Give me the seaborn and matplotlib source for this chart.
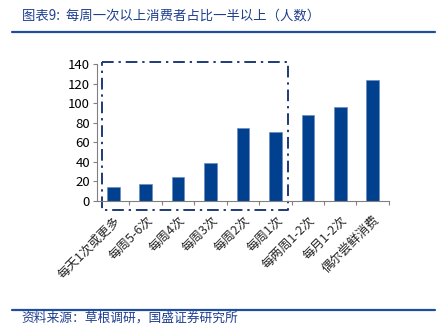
import matplotlib
matplotlib.use("Agg")
import matplotlib.pyplot as plt
import seaborn as sns
import pandas as pd
from matplotlib.lines import Line2D

categories = ["每天1次或更多", "每周5-6次", "每周4次", "每周3次", "每周2次",
              "每周1次", "每两周1-2次", "每月1-2次", "偶尔尝鲜消费"]
values = [14.5, 17, 25, 38.5, 75, 71, 87.5, 96.5, 123.5]
yticks = [0, 20, 40, 60, 80, 100, 120, 140]
title = "图表9:  每周一次以上消费者占比一半以上（人数）"
source = "资料来源：草根调研，国盛证券研究所"

sns.set_theme(style="white")
plt.rcParams['font.family'] = ['Noto Sans CJK SC', 'DejaVu Sans']

df = pd.DataFrame({"cat": categories, "val": values})

fig = plt.figure(figsize=(4.37, 3.32), dpi=100)
ax = fig.add_axes([0.222, 0.3946, 0.668, 0.4126])
sns.barplot(data=df, x="cat", y="val", color="#00408F", width=0.39,
            edgecolor="#6A8CC0", linewidth=0.5, ax=ax, saturation=1)
ax.set_ylim(0, 140)
ax.set_xlim(-0.5, len(categories) - 0.5)
ax.set_yticks(yticks)
ax.set_xlabel("")
ax.set_ylabel("")
for s in ["top", "right"]:
    ax.spines[s].set_visible(False)
for s in ["left", "bottom"]:
    ax.spines[s].set_color("#808080")
    ax.spines[s].set_linewidth(0.8)
ax.tick_params(axis="y", which="major", length=3, width=0.8, color="#808080",
               labelsize=9.5, pad=2, direction="out", left=True)
ax.tick_params(axis="x", which="major", length=0, labelsize=9, pad=9)
ax.set_xticks([i + 0.5 for i in range(len(categories))], minor=True)
ax.tick_params(axis="x", which="minor", length=3, width=0.8, color="#808080",
               direction="out", bottom=True)
for lab in ax.get_xticklabels():
    lab.set_rotation(45)
    lab.set_ha("right")
    lab.set_va("top")
    lab.set_rotation_mode("anchor")
for lab in ax.get_yticklabels():
    lab.set_color("black")

# dash-dot highlight box around first 6 categories
bx0, bx1, by0, by1 = -0.36, 5.39, -9, 142
ax.plot([bx0, bx1, bx1, bx0, bx0], [by1, by1, by0, by0, by1],
        color="#1F3A78", linestyle=(0, (6, 2.5, 1.2, 2.5)), linewidth=1.4,
        clip_on=False)

# header / footer
fig.text(0.05, 0.952, title, fontsize=9.6, color="#1F3F8F", va="center", ha="left")
fig.add_artist(Line2D([0.027, 0.995], [0.905, 0.905], color="#1F4E9F", linewidth=1.6,
                      transform=fig.transFigure))
fig.add_artist(Line2D([0.027, 0.995], [0.066, 0.066], color="#1F4E9F", linewidth=1.6,
                      transform=fig.transFigure))
fig.text(0.05, 0.042, source, fontsize=9.2, color="#1F3F8F", va="center", ha="left")

fig.savefig("out.png", dpi=100)
